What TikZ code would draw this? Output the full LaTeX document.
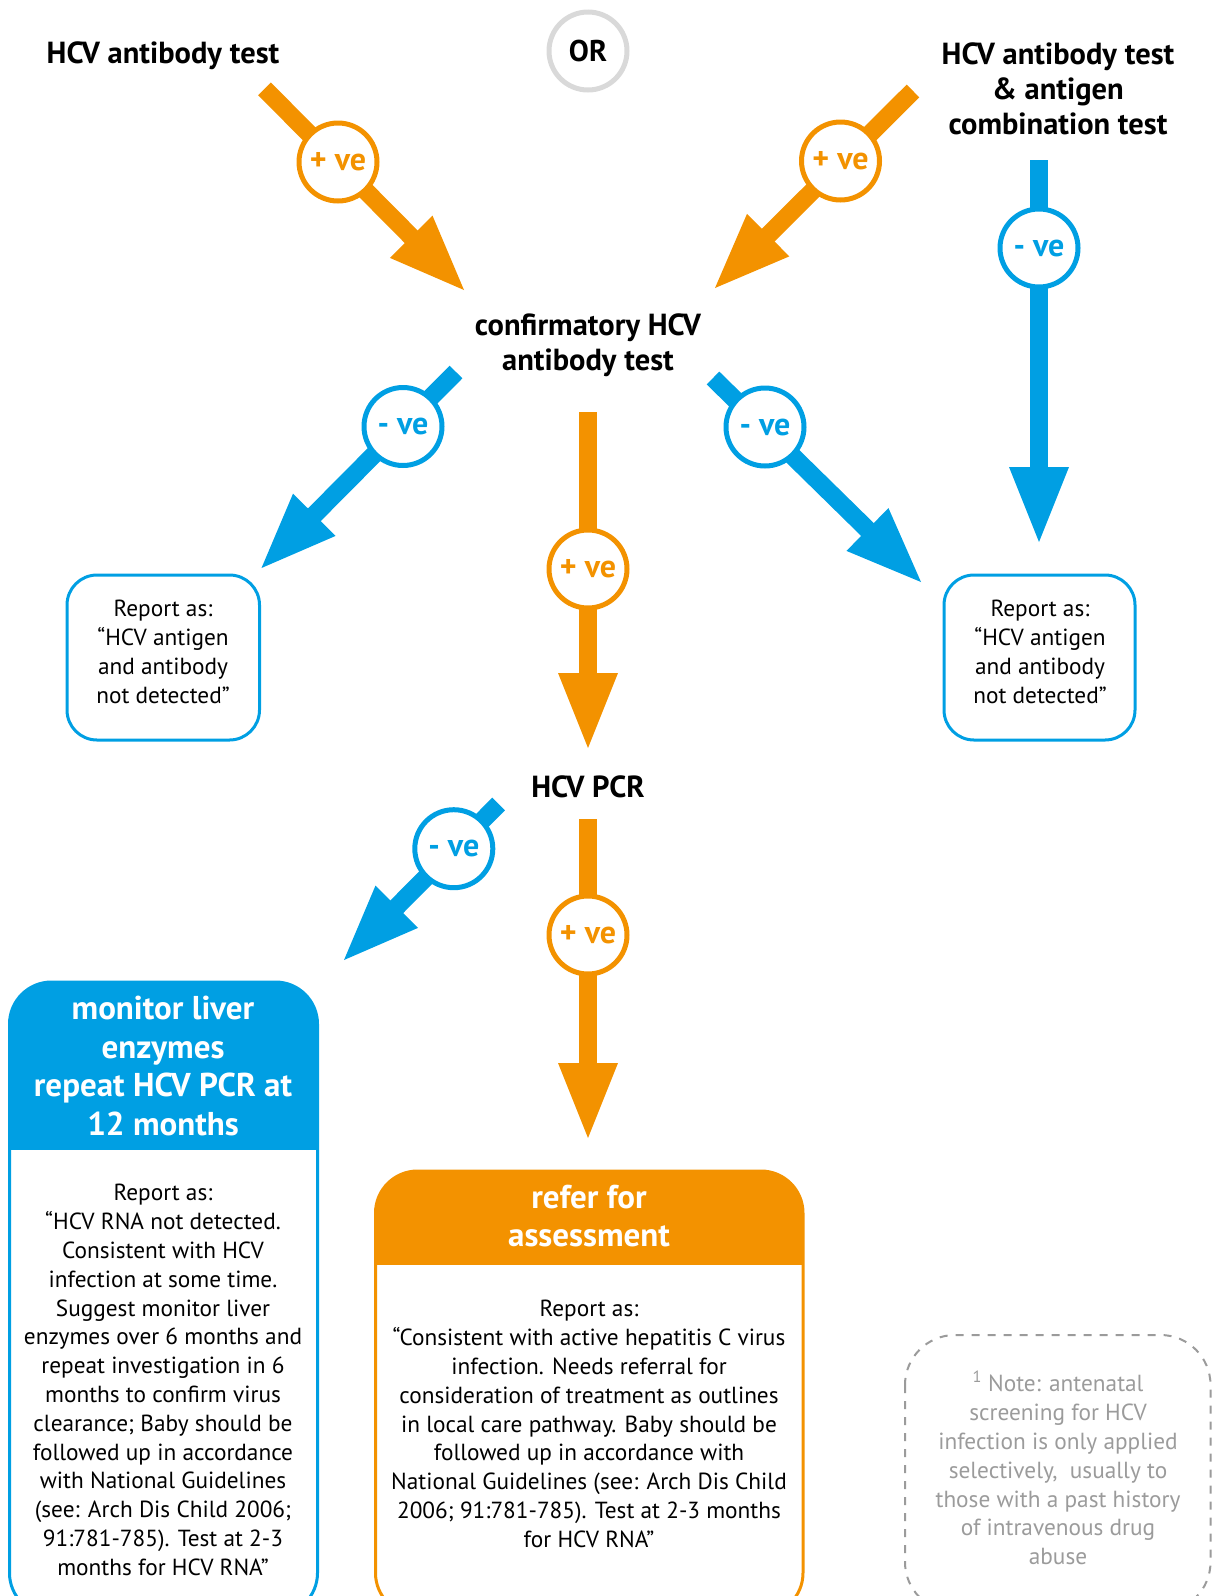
\documentclass[tikz,border=0pt]{standalone}
\usepackage{fontspec}
\setmainfont{PT Sans}
\usetikzlibrary{calc}
\definecolor{hcvorange}{RGB}{243,146,0}
\definecolor{hcvblue}{RGB}{0,159,227}
\definecolor{orgray}{RGB}{217,217,217}
\definecolor{notegray}{RGB}{155,155,155}
\newcommand\fatarrow[3]{%
  \coordinate (#3b) at ($(#3)!75pt!(#2)$);
  \draw[#1, line width=18pt] (#2) -- ($(#3)!73pt!(#2)$);
  \fill[#1] (#3) -- ($(#3b)!30pt!90:(#3)$) -- ($(#3b)!30pt!-90:(#3)$) -- cycle;
}
\tikzset{
  sign/.style={circle, draw=#1, text=#1, line width=5pt, fill=white, minimum size=78pt, inner sep=0pt,
    font=\bfseries\fontsize{32}{34}\selectfont},
  head/.style={align=center, font=\bfseries\fontsize{30.5}{35}\selectfont},
  boxhead/.style={align=center, text=white, font=\bfseries\fontsize{33}{38.7}\selectfont},
  body/.style={align=center, font=\fontsize{23.3}{28.8}\selectfont},
}
\begin{document}
\begin{tikzpicture}[x=1pt,y=-1pt]
\useasboundingbox (0,0) rectangle (1214,1596);
% top labels
\node[head] (abtest) at (163,56) {HCV antibody test};
\node[circle, draw=orgray, line width=5pt, minimum size=78pt, inner sep=0pt, font=\bfseries\fontsize{30}{32}\selectfont] (or) at (588,51) {OR};
\node[head] (combo) at (1058,89) {HCV antibody test\\\& antigen\\combination test};
\node[head] (confirm) at (588,345) {confirmatory HCV\\antibody test};
\node[head] (pcr) at (588,787) {HCV PCR};
% coordinates
\coordinate (s1) at (264.5,88.8); \coordinate (t1) at (464,290);
\coordinate (s2) at (913,91);     \coordinate (t2) at (715,288);
\coordinate (s3) at (1039,160);   \coordinate (t3) at (1039,542);
\coordinate (s4) at (456,372);    \coordinate (t4) at (261.5,568);
\coordinate (s5) at (713,378);    \coordinate (t5) at (921,582);
\coordinate (s6) at (588,412);    \coordinate (t6) at (588,748);
\coordinate (s7) at (498.6,804);  \coordinate (t7) at (344,960);
\coordinate (s8) at (588,819);    \coordinate (t8) at (588,1138);
\fatarrow{hcvorange}{s1}{t1}
\fatarrow{hcvorange}{s2}{t2}
\fatarrow{hcvblue}{s3}{t3}
\fatarrow{hcvblue}{s4}{t4}
\fatarrow{hcvblue}{s5}{t5}
\fatarrow{hcvorange}{s6}{t6}
\fatarrow{hcvblue}{s7}{t7}
\fatarrow{hcvorange}{s8}{t8}
\node[sign=hcvorange] (c1) at (338,162) {+ ve};
\node[sign=hcvorange] (c2) at (840.5,161) {+ ve};
\node[sign=hcvblue] (c3) at (1039,248) {- ve};
\node[sign=hcvblue] (c4) at (403,426.5) {- ve};
\node[sign=hcvblue] (c5) at (765,427) {- ve};
\node[sign=hcvorange] (c6) at (588,569) {+ ve};
\node[sign=hcvblue] (c7) at (453.8,848.7) {- ve};
\node[sign=hcvorange] (c8) at (588,935) {+ ve};
% small report boxes
\draw[hcvblue, line width=3pt, rounded corners=30pt] (67,575) rectangle (259.5,740);
\node[body] (rep1) at (163,652) {Report as:\\“HCV antigen\\and antibody\\not detected”};
\draw[hcvblue, line width=3pt, rounded corners=30pt] (944,575) rectangle (1135,740);
\node[body] (rep2) at (1040,652) {Report as:\\“HCV antigen\\and antibody\\not detected”};
% left big box
\begin{scope}
\clip[rounded corners=42pt] (9.5,982) rectangle (317.5,1615);
\fill[hcvblue] (0,970) rectangle (330,1150);
\end{scope}
\draw[hcvblue, line width=3pt, rounded corners=42pt] (9.5,982) rectangle (317.5,1615);
\node[boxhead] (monhead) at (163,1066) {monitor liver\\enzymes\\repeat HCV PCR at\\12 months};
\node[body] (monbody) at (163,1380) {Report as:\\“HCV RNA not detected.\\Consistent with HCV\\infection at some time.\\Suggest monitor liver\\enzymes over 6 months and\\repeat investigation in 6\\months to confirm virus\\clearance; Baby should be\\followed up in accordance\\with National Guidelines\\(see: Arch Dis Child 2006;\\91:781-785). Test at 2-3\\months for HCV RNA”};
% orange big box
\begin{scope}
\clip[rounded corners=42pt] (375.5,1171) rectangle (803,1615);
\fill[hcvorange] (360,1160) rectangle (820,1265);
\end{scope}
\draw[hcvorange, line width=3pt, rounded corners=42pt] (375.5,1171) rectangle (803,1615);
\node[boxhead] (refhead) at (589,1216) {refer for\\assessment};
\node[body] (refbody) at (589,1424) {Report as:\\“Consistent with active hepatitis C virus\\infection. Needs referral for\\consideration of treatment as outlines\\in local care pathway. Baby should be\\followed up in accordance with\\National Guidelines (see: Arch Dis Child\\2006; 91:781-785). Test at 2-3 months\\for HCV RNA”};
% note box
\draw[notegray, line width=2pt, dash pattern=on 8pt off 8pt, rounded corners=50pt] (905,1335) rectangle (1210.5,1612);
\node[body, text=notegray] (note) at (1058,1468) {\textsuperscript{1} Note: antenatal\\screening for HCV\\infection is only applied\\selectively,\ \ usually to\\those with a past history\\of intravenous drug\\abuse};
\end{tikzpicture}
\end{document}
